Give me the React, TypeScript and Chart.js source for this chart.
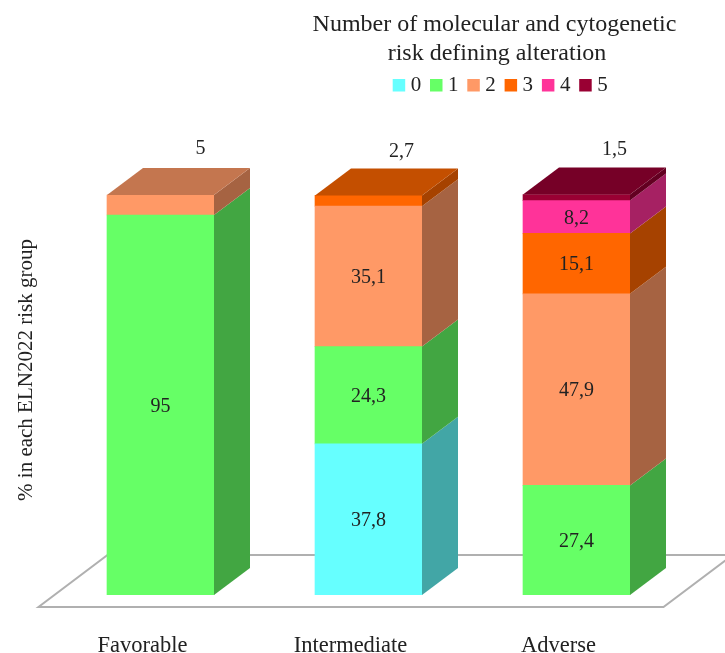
import React, { useEffect, useRef } from "react";
import { Chart, registerables } from "chart.js";

Chart.register(...registerables);

const categories = ["Favorable", "Intermediate", "Adverse"];
const seriesLabels = ["0", "1", "2", "3", "4", "5"];
const series0 = [null, 37.8, null];
const series1 = [95, 24.3, 27.4];
const series2 = [5, 35.1, 47.9];
const series3 = [null, 2.7, 15.1];
const series4 = [null, null, 8.2];
const series5 = [null, null, 1.5];
const allSeries = [series0, series1, series2, series3, series4, series5];
const colors: [number, number, number][] = [
  [102, 255, 255],
  [102, 255, 102],
  [255, 153, 102],
  [255, 102, 0],
  [255, 51, 153],
  [153, 0, 51],
];
const titleLines = ["Number of molecular and cytogenetic", "risk defining alteration"];
const yTitle = "% in each ELN2022 risk group";

const FONT = '"Liberation Serif", serif';
const TEXT = "#222222";
const DX = 36;
const DY = 27;
const topLabelShiftX = [40, 33, 38];
const topLabelShiftY = [46, 44, 45];

const css = (c: number[], k = 1) => `rgb(${c.map((v) => Math.round(v * k)).join(",")})`;

const poly = (ctx: CanvasRenderingContext2D, pts: number[][]) => {
  ctx.beginPath();
  pts.forEach(([x, y], i) => (i ? ctx.lineTo(x, y) : ctx.moveTo(x, y)));
  ctx.closePath();
};

const floorPlugin = {
  id: "floor",
  beforeDatasetsDraw(chart: any) {
    const { ctx, scales } = chart;
    const y0 = scales.y.getPixelForValue(0);
    const left = scales.x.left;
    const right = scales.x.right;
    ctx.save();
    ctx.strokeStyle = "#b0b0b0";
    ctx.lineWidth = 2;
    poly(ctx, [
      [left - 18, y0 + 12],
      [right - 17, y0 + 12],
      [right + 52, y0 - 40],
      [left + 51, y0 - 40],
    ]);
    ctx.stroke();
    ctx.restore();
  },
};

const facesPlugin = {
  id: "faces",
  afterDatasetsDraw(chart: any) {
    const { ctx } = chart;
    ctx.save();
    categories.forEach((_, j) => {
      let topBar: any = null;
      let topColor = colors[0];
      allSeries.forEach((s, i) => {
        if (s[j] == null) return;
        const bar = chart.getDatasetMeta(i).data[j];
        const r = bar.x + bar.width / 2;
        ctx.fillStyle = css(colors[i], 0.65);
        poly(ctx, [
          [r, bar.base],
          [r + DX, bar.base - DY],
          [r + DX, bar.y - DY],
          [r, bar.y],
        ]);
        ctx.fill();
        topBar = bar;
        topColor = colors[i];
      });
      if (topBar) {
        const l = topBar.x - topBar.width / 2;
        const r = topBar.x + topBar.width / 2;
        ctx.fillStyle = css(topColor, 0.77);
        poly(ctx, [
          [l, topBar.y],
          [r, topBar.y],
          [r + DX, topBar.y - DY],
          [l + DX, topBar.y - DY],
        ]);
        ctx.fill();
      }
    });
    ctx.restore();
  },
  afterDraw(chart: any) {
    const { ctx } = chart;
    ctx.save();
    ctx.fillStyle = TEXT;
    ctx.textBaseline = "middle";
    ctx.textAlign = "center";
    ctx.font = `20px ${FONT}`;
    // value labels
    allSeries.forEach((s, i) => {
      s.forEach((v, j) => {
        if (v == null) return;
        const bar = chart.getDatasetMeta(i).data[j];
        const txt = String(v).replace(".", ",");
        const h = bar.base - bar.y;
        if (h < 24) {
          ctx.fillText(txt, bar.x + topLabelShiftX[j], bar.y - topLabelShiftY[j]);
        } else {
          ctx.fillText(txt, bar.x, (bar.y + bar.base) / 2 + 1.5);
        }
      });
    });
    // title
    ctx.font = `24px ${FONT}`;
    ctx.fillText(titleLines[0], 494.5, 24.5);
    ctx.fillText(titleLines[1], 497, 53.5);
    // legend
    ctx.font = `21px ${FONT}`;
    ctx.textAlign = "left";
    seriesLabels.forEach((lab, i) => {
      const x = 392.7 + i * 37.3;
      ctx.fillStyle = css(colors[i]);
      ctx.fillRect(x, 79, 12.5, 12.5);
      ctx.fillStyle = TEXT;
      ctx.fillText(lab, x + 18, 85.5);
    });
    ctx.restore();
  },
};

export default function App() {
  const ref = useRef<HTMLCanvasElement>(null);
  useEffect(() => {
    document.body.style.margin = "0";
    const chart = new Chart(ref.current as HTMLCanvasElement, {
      type: "bar",
      data: {
        labels: categories,
        datasets: allSeries.map((data, i) => ({
          label: seriesLabels[i],
          data,
          backgroundColor: css(colors[i]),
          borderWidth: 0,
          barThickness: 107,
        })),
      },
      options: {
        responsive: false,
        devicePixelRatio: 1,
        animation: false,
        layout: { padding: { top: 145, right: 44.5, left: 0, bottom: 0 } },
        plugins: { legend: { display: false }, title: { display: false }, tooltip: { enabled: false } },
        scales: {
          x: {
            stacked: true,
            grid: { display: false },
            border: { display: false },
            ticks: {
              color: TEXT,
              font: { family: FONT, size: 22.5 },
              padding: 30,
              labelOffset: -18,
              maxRotation: 0,
              autoSkip: false,
            },
            afterFit: (s: any) => {
              s.height = 58;
            },
          },
          y: {
            stacked: true,
            min: 0,
            max: 112.5,
            grid: { display: false },
            border: { display: false },
            ticks: { display: false },
            title: {
              display: true,
              text: yTitle,
              color: TEXT,
              font: { family: FONT, size: 21 },
              padding: { top: 14, bottom: 0 },
            },
            afterFit: (s: any) => {
              s.width = 56.5;
            },
          },
        },
      },
      plugins: [floorPlugin, facesPlugin],
    } as any);
    return () => chart.destroy();
  }, []);
  return <canvas ref={ref} width={725} height={653} style={{ display: "block" }} />;
}
